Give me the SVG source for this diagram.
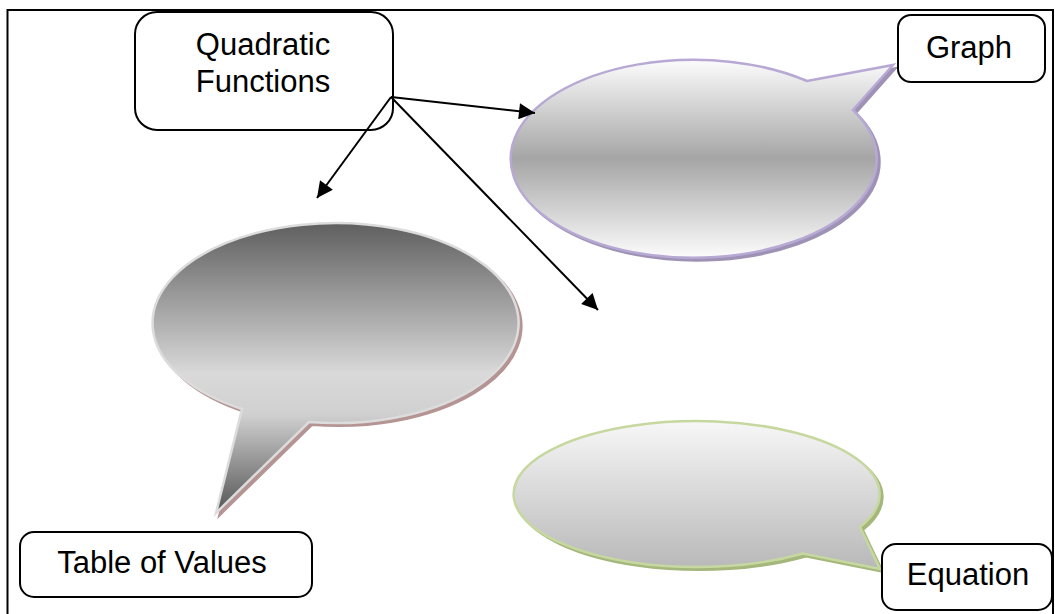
<svg xmlns="http://www.w3.org/2000/svg" width="1055" height="614" viewBox="0 0 1055 614">
<style>
.box{fill:#fff;stroke:#000;stroke-width:2}
.lbl{font-family:"Liberation Sans",Arial,sans-serif;font-size:31px;fill:#000;text-anchor:middle}
.conn{stroke:#000;stroke-width:2;fill:none;marker-end:url(#arr)}
</style>
<defs>
<marker id="arr" viewBox="0 0 10 10" refX="10" refY="5" markerWidth="9" markerHeight="8" markerUnits="strokeWidth" orient="auto">
<path d="M0 0 L10 5 L0 10 Z" fill="#000"/>
</marker>
<linearGradient id="gGraph" x1="0" y1="0" x2="0" y2="1">
<stop offset="0" stop-color="#fcfcfc"/>
<stop offset="0.5" stop-color="#a5a5a5"/>
<stop offset="1" stop-color="#fcfcfc"/>
</linearGradient>
<linearGradient id="gTable" x1="0" y1="0" x2="0" y2="1">
<stop offset="0" stop-color="#5f5f5f"/>
<stop offset="0.52" stop-color="#d9d9d9"/>
<stop offset="0.66" stop-color="#d0d0d0"/>
<stop offset="1" stop-color="#555555"/>
</linearGradient>
<linearGradient id="gEq" x1="0" y1="0" x2="0" y2="1">
<stop offset="0" stop-color="#f7f7f7"/>
<stop offset="1" stop-color="#b8b8b8"/>
</linearGradient>
</defs>
<rect x="7.5" y="10" width="1045.5" height="620" fill="none" stroke="#000" stroke-width="2"/>

<g id="bubble-graph">
<path d="M807 81 L893 65 L853 110 A183 99 0 1 1 807 81 Z" transform="translate(3,3)" fill="#9e92b5" stroke="#9e92b5" stroke-width="2"/>
<path d="M807 81 L893 65 L853 110 A183 99 0 1 1 807 81 Z" fill="url(#gGraph)" stroke="#b7a9d4" stroke-width="2.5"/>
</g>
<g id="bubble-table">
<path d="M242 409 L216 513 L309 422 A183 100 0 1 0 242 409 Z" transform="translate(3,3)" fill="#b59494" stroke="#b59494" stroke-width="2"/>
<path d="M242 409 L216 513 L309 422 A183 100 0 1 0 242 409 Z" fill="url(#gTable)" stroke="#dcdcdc" stroke-width="2.5"/>
</g>
<g id="bubble-equation">
<path d="M860 527 L880 569 L803 553.5 A183 73 0 1 1 860 527 Z" transform="translate(3,3)" fill="#a5b77c" stroke="#a5b77c" stroke-width="2"/>
<path d="M860 527 L880 569 L803 553.5 A183 73 0 1 1 860 527 Z" fill="url(#gEq)" stroke="#c6d89f" stroke-width="2.5"/>
</g>

<g id="node-quadratic">
<rect class="box" x="135" y="12" width="258" height="118" rx="22" ry="22"/>
<text class="lbl" x="263" y="55">Quadratic</text>
<text class="lbl" x="263" y="92">Functions</text>
</g>
<g id="node-graph">
<rect class="box" x="898" y="15" width="147" height="67" rx="13" ry="13"/>
<text class="lbl" x="969" y="58">Graph</text>
</g>
<g id="node-table">
<rect class="box" x="20" y="532" width="292" height="65" rx="14" ry="14"/>
<text class="lbl" x="162" y="573">Table of Values</text>
</g>
<g id="node-equation">
<rect class="box" x="882" y="544" width="170" height="66" rx="14" ry="14"/>
<text class="lbl" x="968" y="585">Equation</text>
</g>

<g id="connectors">
<line class="conn" x1="391" y1="97" x2="535" y2="113"/>
<line class="conn" x1="391" y1="97" x2="317" y2="198"/>
<line class="conn" x1="391" y1="97" x2="598" y2="310"/>
</g>
</svg>
